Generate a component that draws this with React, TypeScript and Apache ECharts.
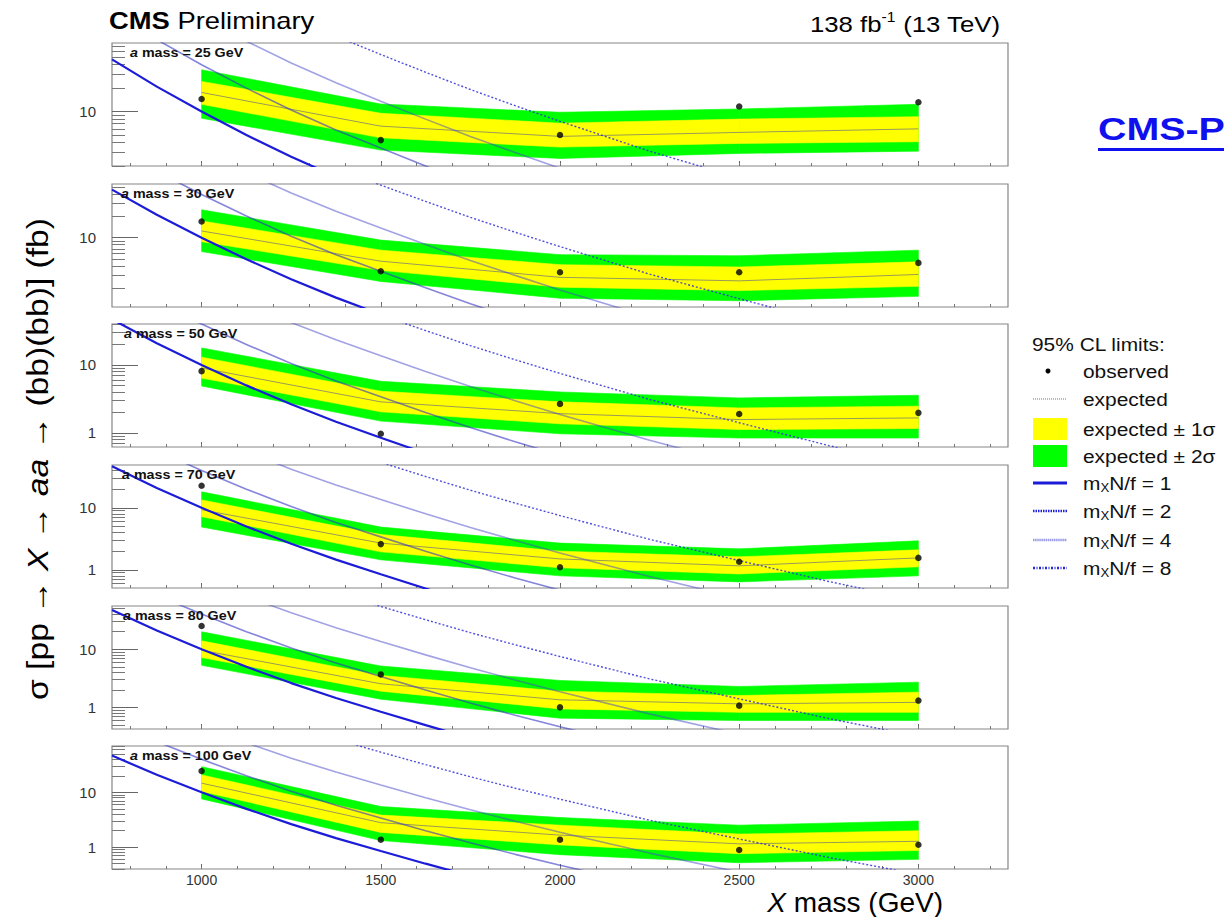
import React, { useEffect, useRef } from "react";
import * as echarts from "echarts";

const FONT = "'Liberation Sans', Arial, Helvetica, sans-serif";

// ---------------- data ----------------
const aMassLabels = ["25", "30", "50", "70", "80", "100"];
const xMass = [1000, 1500, 2000, 2500, 3000];

const observed25 = [14.5, 4.3, 5.0, 11.6, 13.2];
const expected25 = [17.6, 6.5, 4.8, 5.4, 6.0];
const up1s25 = [24.4, 9.5, 7.1, 8.0, 8.6];
const lo1s25 = [12.4, 4.6, 3.5, 3.9, 4.1];
const up2s25 = [34.4, 12.5, 9.8, 10.8, 12.4];
const lo2s25 = [8.2, 3.2, 2.5, 2.9, 3.1];

const observed30 = [16.8, 3.4, 3.3, 3.3, 4.45];
const expected30 = [12.4, 4.7, 2.8, 2.5, 3.07];
const up1s30 = [17.1, 6.7, 4.2, 3.9, 4.6];
const lo1s30 = [8.8, 3.5, 2.04, 1.83, 2.1];
const up2s30 = [24.5, 9.25, 5.8, 5.6, 6.7];
const lo2s30 = [6.4, 2.45, 1.43, 1.32, 1.52];

const observed50 = [8.1, 0.97, 2.67, 1.9, 1.97];
const expected50 = [9.0, 2.86, 1.92, 1.57, 1.66];
const up1s50 = [13, 4.1, 2.86, 2.33, 2.47];
const lo1s50 = [6.4, 2.04, 1.36, 1.12, 1.16];
const up2s50 = [17.8, 5.75, 4.0, 3.27, 3.58];
const lo2s50 = [4.9, 1.49, 0.97, 0.84, 0.84];

const observed70 = [22.7, 2.6, 1.1, 1.35, 1.56];
const expected70 = [9.3, 2.7, 1.5, 1.16, 1.56];
const up1s70 = [13.4, 3.7, 2.0, 1.62, 2.1];
const lo1s70 = [7.2, 1.95, 1.08, 0.86, 1.12];
const up2s70 = [18.1, 4.9, 2.7, 2.18, 2.94];
const lo2s70 = [4.9, 1.45, 0.8, 0.64, 0.8];

const observed80 = [25, 3.7, 1.01, 1.08, 1.32];
const expected80 = [9.6, 2.56, 1.36, 1.16, 1.23];
const up1s80 = [13.9, 3.56, 1.91, 1.61, 1.84];
const lo1s80 = [7.2, 1.91, 0.95, 0.83, 0.83];
const up2s80 = [19.9, 5.15, 2.92, 2.3, 2.73];
const lo2s80 = [5.3, 1.39, 0.66, 0.6, 0.6];

const observed100 = [24.5, 1.37, 1.37, 0.89, 1.11];
const expected100 = [14.7, 2.8, 1.66, 1.15, 1.28];
const up1s100 = [20.8, 3.85, 2.52, 1.73, 1.99];
const lo1s100 = [10.4, 1.86, 1.1, 0.76, 0.87];
const up2s100 = [29.4, 5.5, 3.47, 2.52, 3.0];
const lo2s100 = [7.6, 1.32, 0.73, 0.52, 0.6];

const theoryMass = [750, 875, 1000, 1125, 1250, 1375, 1500, 1625, 1750, 1875, 2000, 2250, 2500, 2750, 3000, 3250];
const theoryNf1 = [46.8, 20.9, 10, 5.0, 2.63, 1.46, 0.85, 0.5, 0.3, 0.186, 0.117, 0.049, 0.022, 0.0102, 0.005, 0.0025];
const theoryNf2 = [187, 84, 40, 20, 10.5, 5.8, 3.4, 2.0, 1.2, 0.74, 0.47, 0.196, 0.088, 0.041, 0.02, 0.01];
const theoryNf4 = [749, 334, 160, 80, 42, 23.4, 13.6, 8.0, 4.8, 2.98, 1.87, 0.78, 0.35, 0.163, 0.08, 0.04];
const theoryNf8 = [2995, 1338, 640, 320, 168, 93, 54, 32, 19.2, 11.9, 7.5, 3.1, 1.41, 0.65, 0.32, 0.16];

const yAxisMin = [2, 1.08, 0.62, 0.51, 0.43, 0.4];
const yAxisMax = [76, 56, 40, 49, 55, 70];

const xTickLabels = [1000, 1500, 2000, 2500, 3000];
const xMinorTicks = [800, 900, 1000, 1100, 1200, 1300, 1400, 1500, 1600, 1700, 1800, 1900, 2000, 2100, 2200, 2300, 2400, 2500, 2600, 2700, 2800, 2900, 3000, 3100, 3200];
const yMajorTicks = [1, 10];
const yMinorTicks = [0.2, 0.3, 0.4, 0.5, 0.6, 0.7, 0.8, 0.9, 2, 3, 4, 5, 6, 7, 8, 9, 20, 30, 40, 50, 60, 70, 80, 90];

const panels = [
  { obs: observed25, exp: expected25, u1: up1s25, l1: lo1s25, u2: up2s25, l2: lo2s25 },
  { obs: observed30, exp: expected30, u1: up1s30, l1: lo1s30, u2: up2s30, l2: lo2s30 },
  { obs: observed50, exp: expected50, u1: up1s50, l1: lo1s50, u2: up2s50, l2: lo2s50 },
  { obs: observed70, exp: expected70, u1: up1s70, l1: lo1s70, u2: up2s70, l2: lo2s70 },
  { obs: observed80, exp: expected80, u1: up1s80, l1: lo1s80, u2: up2s80, l2: lo2s80 },
  { obs: observed100, exp: expected100, u1: up1s100, l1: lo1s100, u2: up2s100, l2: lo2s100 },
];

// ---------------- layout ----------------
const GRID_LEFT = 112;
const GRID_WIDTH = 896;
const GRID_HEIGHT = 123;
const gridTops = [43, 184, 324, 465, 606, 746];
const labelX = [130, 121, 124, 122, 123, 130];

const pair = (xs: number[], ys: number[]) => xs.map((x, j) => [x, ys[j]]);

function bandSegments(lo: number[], hi: number[]) {
  const out: number[][] = [];
  for (let j = 0; j < xMass.length - 1; j++) {
    out.push([xMass[j], lo[j], hi[j], xMass[j + 1], lo[j + 1], hi[j + 1]]);
  }
  return out;
}

const bandRender = (color: string) => (_params: any, api: any) => {
  const a = api.coord([api.value(0), api.value(2)]);
  const b = api.coord([api.value(3), api.value(5)]);
  const c = api.coord([api.value(3), api.value(4)]);
  const d = api.coord([api.value(0), api.value(1)]);
  return {
    type: "polygon",
    shape: { points: [a, b, c, d] },
    style: { fill: color, stroke: color, lineWidth: 0.6 },
  };
};

function buildOption() {
  const grid: any[] = [];
  const xAxis: any[] = [];
  const yAxis: any[] = [];
  const series: any[] = [];
  const graphic: any[] = [];

  panels.forEach((p, i) => {
    grid.push({
      left: GRID_LEFT,
      top: gridTops[i],
      width: GRID_WIDTH,
      height: GRID_HEIGHT,
      show: true,
      borderColor: "#858585",
      borderWidth: 1.2,
      backgroundColor: "transparent",
      outerBoundsMode: "none",
      containLabel: false,
    });
    const xa = 2 * i;
    const ya = 2 * i;
    xAxis.push({
      type: "value",
      gridIndex: i,
      position: "bottom",
      min: 750,
      max: 3250,
      axisLine: { show: false, onZero: false },
      splitLine: { show: false },
      axisTick: { show: true, inside: true, length: 5, customValues: xTickLabels, lineStyle: { color: "#666", width: 1 } },
      axisLabel: {
        show: i === 5,
        customValues: xTickLabels,
        margin: 4,
        fontSize: 14,
        lineHeight: 14,
        color: "#333",
        fontFamily: FONT,
        formatter: (v: number) => String(v),
      },
    });
    xAxis.push({
      type: "value",
      gridIndex: i,
      position: "bottom",
      min: 750,
      max: 3250,
      axisLine: { show: false, onZero: false },
      splitLine: { show: false },
      axisTick: { show: true, inside: true, length: 3, customValues: xMinorTicks, lineStyle: { color: "#777", width: 1 } },
      axisLabel: { show: false },
    });
    yAxis.push({
      type: "log",
      logBase: 10,
      gridIndex: i,
      position: "left",
      min: yAxisMin[i],
      max: yAxisMax[i],
      axisLine: { show: false, onZero: false },
      splitLine: { show: false },
      axisTick: { show: true, inside: true, length: 26, customValues: yMajorTicks, lineStyle: { color: "#666", width: 1 } },
      axisLabel: {
        show: true,
        customValues: yMajorTicks,
        margin: 16,
        fontSize: 15,
        color: "#333",
        fontFamily: FONT,
        formatter: (v: number) => String(v),
      },
    });
    yAxis.push({
      type: "log",
      logBase: 10,
      gridIndex: i,
      position: "left",
      min: yAxisMin[i],
      max: yAxisMax[i],
      axisLine: { show: false, onZero: false },
      splitLine: { show: false },
      axisTick: { show: true, inside: true, length: 13, customValues: yMinorTicks, lineStyle: { color: "#777", width: 1 } },
      axisLabel: { show: false },
    });

    series.push({
      type: "custom",
      name: "expected ± 2σ",
      xAxisIndex: xa,
      yAxisIndex: ya,
      data: bandSegments(p.l2, p.u2),
      encode: { x: [0, 3], y: [1, 2, 4, 5] },
      renderItem: bandRender("#00ff00"),
      silent: true,
      z: 1,
    });
    series.push({
      type: "custom",
      name: "expected ± 1σ",
      xAxisIndex: xa,
      yAxisIndex: ya,
      data: bandSegments(p.l1, p.u1),
      encode: { x: [0, 3], y: [1, 2, 4, 5] },
      renderItem: bandRender("#ffff00"),
      silent: true,
      z: 2,
    });
    series.push({
      type: "line",
      name: "expected",
      xAxisIndex: xa,
      yAxisIndex: ya,
      data: pair(xMass, p.exp),
      symbol: "none",
      lineStyle: { color: "#8f8f62", width: 0.9 },
      silent: true,
      z: 3,
    });
    const theo = [
      { d: theoryNf1, color: "#1c1cd8", width: 2.2, opacity: 1, type: "solid" },
      { d: theoryNf2, color: "#3434c4", width: 1.6, opacity: 0.6, type: "solid" },
      { d: theoryNf4, color: "#4646cc", width: 1.6, opacity: 0.5, type: "solid" },
      { d: theoryNf8, color: "#3030d8", width: 1.4, opacity: 0.85, type: [2, 2] },
    ];
    theo.forEach((t, k) => {
      series.push({
        type: "line",
        name: "theory" + k,
        xAxisIndex: xa,
        yAxisIndex: ya,
        data: pair(theoryMass, t.d),
        symbol: "none",
        clip: true,
        lineStyle: { color: t.color, width: t.width, opacity: t.opacity, type: t.type },
        silent: true,
        z: 4,
      });
    });
    series.push({
      type: "scatter",
      name: "observed",
      xAxisIndex: xa,
      yAxisIndex: ya,
      data: pair(xMass, p.obs),
      symbol: "circle",
      symbolSize: 6.5,
      itemStyle: { color: "#000" },
      silent: true,
      z: 5,
    });

    graphic.push({
      type: "text",
      x: labelX[i],
      y: gridTops[i] + 10,
      scaleX: 1.1,
      style: {
        text: "{i|a}{b| mass = " + aMassLabels[i] + " GeV}",
        verticalAlign: "middle",
        align: "left",
        rich: {
          i: { fontFamily: FONT, fontSize: 13, fontWeight: "bold", fontStyle: "italic", fill: "#111" },
          b: { fontFamily: FONT, fontSize: 13, fontWeight: "bold", fill: "#111" },
        },
      },
      z: 100,
    });
  });

  // headers
  graphic.push({
    type: "text",
    x: 109,
    y: 21,
    scaleX: 1.19,
    style: {
      text: "{b|CMS}{n| Preliminary}",
      verticalAlign: "middle",
      rich: {
        b: { fontFamily: FONT, fontSize: 23, fontWeight: "bold", fill: "#000" },
        n: { fontFamily: FONT, fontSize: 23, fill: "#000" },
      },
    },
  });
  graphic.push({
    type: "text",
    x: 1000,
    y: 24,
    scaleX: 1.12,
    style: {
      text: "{n|138 fb}{s|-1}{n| (13 TeV)}",
      align: "right",
      verticalAlign: "middle",
      rich: {
        n: { fontFamily: FONT, fontSize: 23, lineHeight: 27, fill: "#000" },
        s: { fontFamily: FONT, fontSize: 14, lineHeight: 14, verticalAlign: "top", fill: "#000" },
      },
    },
  });
  // axis titles
  graphic.push({
    type: "text",
    x: 943,
    y: 902,
    style: {
      text: "{i|X}{n| mass (GeV)}",
      align: "right",
      verticalAlign: "middle",
      rich: {
        i: { fontFamily: FONT, fontSize: 28, lineHeight: 26, fontStyle: "italic", fill: "#000" },
        n: { fontFamily: FONT, fontSize: 28, lineHeight: 26, fill: "#000" },
      },
    },
  });
  graphic.push({
    type: "text",
    x: 38,
    y: 459,
    rotation: Math.PI / 2,
    scaleX: 1.12,
    style: {
      text: "{n|σ [pp → }{i|X}{n| → }{i|aa}{n| → (bb)(bb)] (fb)}",
      align: "center",
      verticalAlign: "middle",
      rich: {
        i: { fontFamily: FONT, fontSize: 30, fontStyle: "italic", fill: "#000" },
        n: { fontFamily: FONT, fontSize: 30, fill: "#000" },
      },
    },
  });
  // CMS-P link
  graphic.push({
    type: "text",
    x: 1098,
    y: 130,
    scaleX: 1.27,
    style: {
      text: "CMS-P",
      fontFamily: FONT,
      fontSize: 31,
      fontWeight: "bold",
      fill: "#1010ee",
      verticalAlign: "middle",
    },
  });
  graphic.push({
    type: "rect",
    shape: { x: 1098, y: 148, width: 126, height: 3 },
    style: { fill: "#1010ee" },
  });

  // legend
  const LX = 1033;
  const LT = 1083;
  const legendText = (y: number, text: string, rich?: any) => ({
    type: "text",
    x: LT,
    y,
    scaleX: 1.1,
    style: rich
      ? { text, verticalAlign: "middle", rich }
      : { text, fontFamily: FONT, fontSize: 19, fill: "#111", verticalAlign: "middle" },
  });
  const subRich = {
    n: { fontFamily: FONT, fontSize: 19, lineHeight: 22, fill: "#111" },
    s: { fontFamily: FONT, fontSize: 12, lineHeight: 10, verticalAlign: "bottom", fill: "#111" },
  };
  graphic.push({
    type: "text",
    x: 1032,
    y: 344,
    scaleX: 1.1,
    style: { text: "95% CL limits:", fontFamily: FONT, fontSize: 19, fill: "#111", verticalAlign: "middle" },
  });
  graphic.push({ type: "circle", shape: { cx: 1048, cy: 371, r: 2.5 }, style: { fill: "#000" } });
  graphic.push(legendText(371, "observed"));
  graphic.push({
    type: "line",
    shape: { x1: LX, y1: 399, x2: LX + 34, y2: 399 },
    style: { stroke: "#777", lineWidth: 1, lineDash: [1, 1] },
  });
  graphic.push(legendText(399, "expected"));
  graphic.push({ type: "rect", shape: { x: LX, y: 418, width: 34, height: 22 }, style: { fill: "#ffff00" } });
  graphic.push(legendText(429, "expected ± 1σ"));
  graphic.push({ type: "rect", shape: { x: LX, y: 445, width: 34, height: 22 }, style: { fill: "#00ff00" } });
  graphic.push(legendText(456, "expected ± 2σ"));
  const lineRows = [
    { y: 483, label: "1", stroke: "#1c1cd8", w: 3, dash: null as any },
    { y: 511, label: "2", stroke: "#2020d8", w: 2.5, dash: [1.5, 1] },
    { y: 540, label: "4", stroke: "#9a9ae6", w: 2.5, dash: [1.5, 0.6] },
    { y: 568, label: "8", stroke: "#2525d0", w: 2.5, dash: [2, 1.5, 1, 1.5] },
  ];
  lineRows.forEach((r) => {
    graphic.push({
      type: "line",
      shape: { x1: LX, y1: r.y, x2: LX + 34, y2: r.y },
      style: { stroke: r.stroke, lineWidth: r.w, lineDash: r.dash || undefined },
    });
    graphic.push(legendText(r.y, "{n|m}{s|X}{n|N/f = " + r.label + "}", subRich));
  });

  return {
    animation: false,
    backgroundColor: "#ffffff",
    textStyle: { fontFamily: FONT },
    grid,
    xAxis,
    yAxis,
    series,
    graphic,
  };
}

export default function App() {
  const ref = useRef<HTMLDivElement>(null);
  useEffect(() => {
    document.body.style.margin = "0";
    if (!ref.current) return;
    const chart = echarts.init(ref.current, undefined, { renderer: "svg" });
    chart.setOption(buildOption() as any);
    return () => {
      chart.dispose();
    };
  }, []);
  return <div ref={ref} style={{ width: 1224, height: 917 }} />;
}
